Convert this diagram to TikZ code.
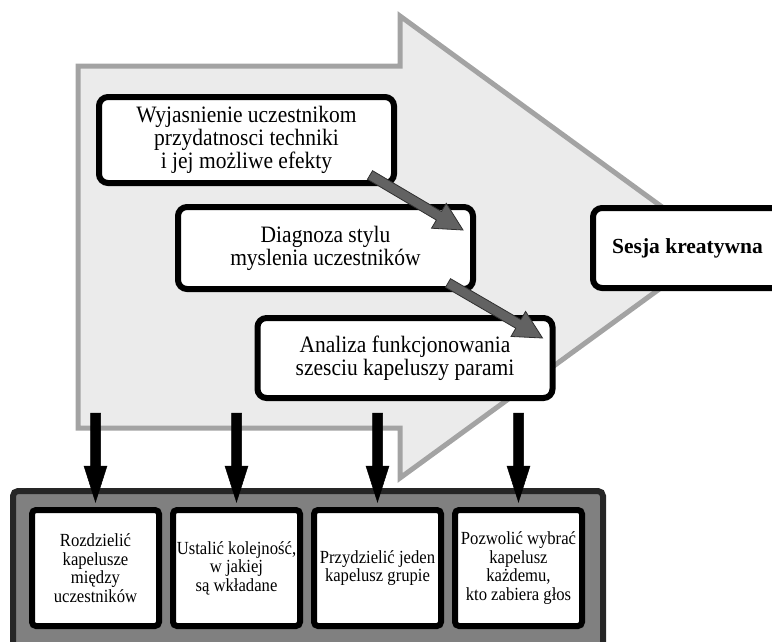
\documentclass[tikz,border=0pt]{standalone}
\usepackage{fontspec}
\setmainfont{Liberation Serif}
\newfontfamily\topfont[FakeStretch=0.915]{Liberation Serif}
\newfontfamily\botfont[FakeStretch=0.9]{Liberation Serif}
\usetikzlibrary{calc}
\definecolor{bigfill}{HTML}{EBEBEB}
\definecolor{bigline}{HTML}{A3A3A3}
\definecolor{garrow}{HTML}{626262}
\definecolor{garrowline}{HTML}{303030}
\definecolor{contfill}{HTML}{808080}
\definecolor{contline}{HTML}{262626}
\newcommand\fatarrow[6]{%
  \path (#2) coordinate (fa-s) (#3) coordinate (fa-e);
  \coordinate (fa-h) at ($(fa-e)!#5!(fa-s)$);
  \filldraw[#1] ($(fa-s)!#4!90:(fa-e)$) -- ($(fa-h)!#4!-90:(fa-s)$) -- ($(fa-h)!#6!-90:(fa-s)$) -- (fa-e) -- ($(fa-h)!#6!90:(fa-s)$) -- ($(fa-h)!#4!90:(fa-s)$) -- ($(fa-s)!#4!-90:(fa-e)$) -- cycle;}
\tikzset{
  topbox/.style={draw=black, line width=6pt, rounded corners=9pt, fill=white,
    minimum width=295pt, inner sep=0pt, align=center,
    font=\topfont\fontsize{23.5}{23.2}\selectfont},
  sesjabox/.style={draw=black, line width=6pt, rounded corners=9pt, fill=white,
    minimum width=189pt, minimum height=80pt, inner sep=0pt, align=center,
    font=\fontsize{21.5}{24.5}\selectfont\bfseries},
  botbox/.style={draw=black, line width=6pt, rounded corners=4pt, fill=white,
    minimum width=127pt, minimum height=116pt, inner sep=0pt, align=center,
    font=\botfont\fontsize{18.5}{18.6}\selectfont},
  contbox/.style={draw=contline, line width=6pt, rounded corners=5pt, fill=contfill,
    minimum width=590pt, minimum height=169pt, inner sep=0pt},
  grayarr/.style={fill=garrow, draw=garrowline, line width=0.8pt, line join=miter},
  blackarr/.style={fill=black, draw=black, line width=0.5pt, line join=miter}
}
\begin{document}
\begin{tikzpicture}[x=1pt,y=-1pt]
\useasboundingbox (0,0) rectangle (772,641);
\clip (0,0) rectangle (772,641);
% big gray arrow
\draw[fill=bigfill, draw=bigline, line width=5pt, line join=miter]
  (78,66) -- (400,66) -- (400,16) -- (717,247) -- (400,478) -- (400,428) -- (78,428) -- cycle;
% top boxes
\node[topbox, minimum height=86pt] (b1) at (246.5,140) {Wyjasnienie uczestnikom\\przydatnosci techniki\\i jej możliwe efekty};
\node[topbox, minimum height=82pt] (b2) at (325.5,248) {Diagnoza stylu\\myslenia uczestników};
\node[topbox, minimum height=80pt] (b3) at (405,358) {Analiza funkcjonowania\\szesciu kapeluszy parami};
\node[sesjabox] (s) at (687.5,248) {Sesja kreatywna};
% gray arrows
\coordinate (a1s) at ($(b1.south east)+(-27,-11)$);
\coordinate (a1e) at ($(b2.north east)+(-13,26)$);
\coordinate (a2s) at ($(b2.south east)+(-28,-9)$);
\coordinate (a2e) at ($(b3.north east)+(-13,23)$);
\fatarrow{grayarr}{a1s}{a1e}{5pt}{28pt}{14.5pt}
\fatarrow{grayarr}{a2s}{a2e}{5pt}{28pt}{14.5pt}
% bottom container
\node[contbox] (cont) at (308,575.5) {};
\node[botbox] (c1) at (95.5,568) {Rozdzielić\\kapelusze\\między\\uczestników};
\node[botbox] (c2) at (236.5,568) {Ustalić kolejność,\\w jakiej\\są wkładane};
\node[botbox] (c3) at (377.5,568) {Przydzielić jeden\\kapelusz grupie};
\node[botbox] (c4) at (518.5,568) {Pozwolić wybrać\\kapelusz\\każdemu,\\kto zabiera głos};
% black arrows
\foreach \i in {1,2,3,4}{
  \coordinate (t\i) at ($(c\i.north)+(0,-94)$);
  \coordinate (e\i) at ($(c\i.north)+(0,-5)$);
  \fatarrow{blackarr}{t\i}{e\i}{5pt}{36pt}{11.5pt}
}
\end{tikzpicture}
\end{document}
